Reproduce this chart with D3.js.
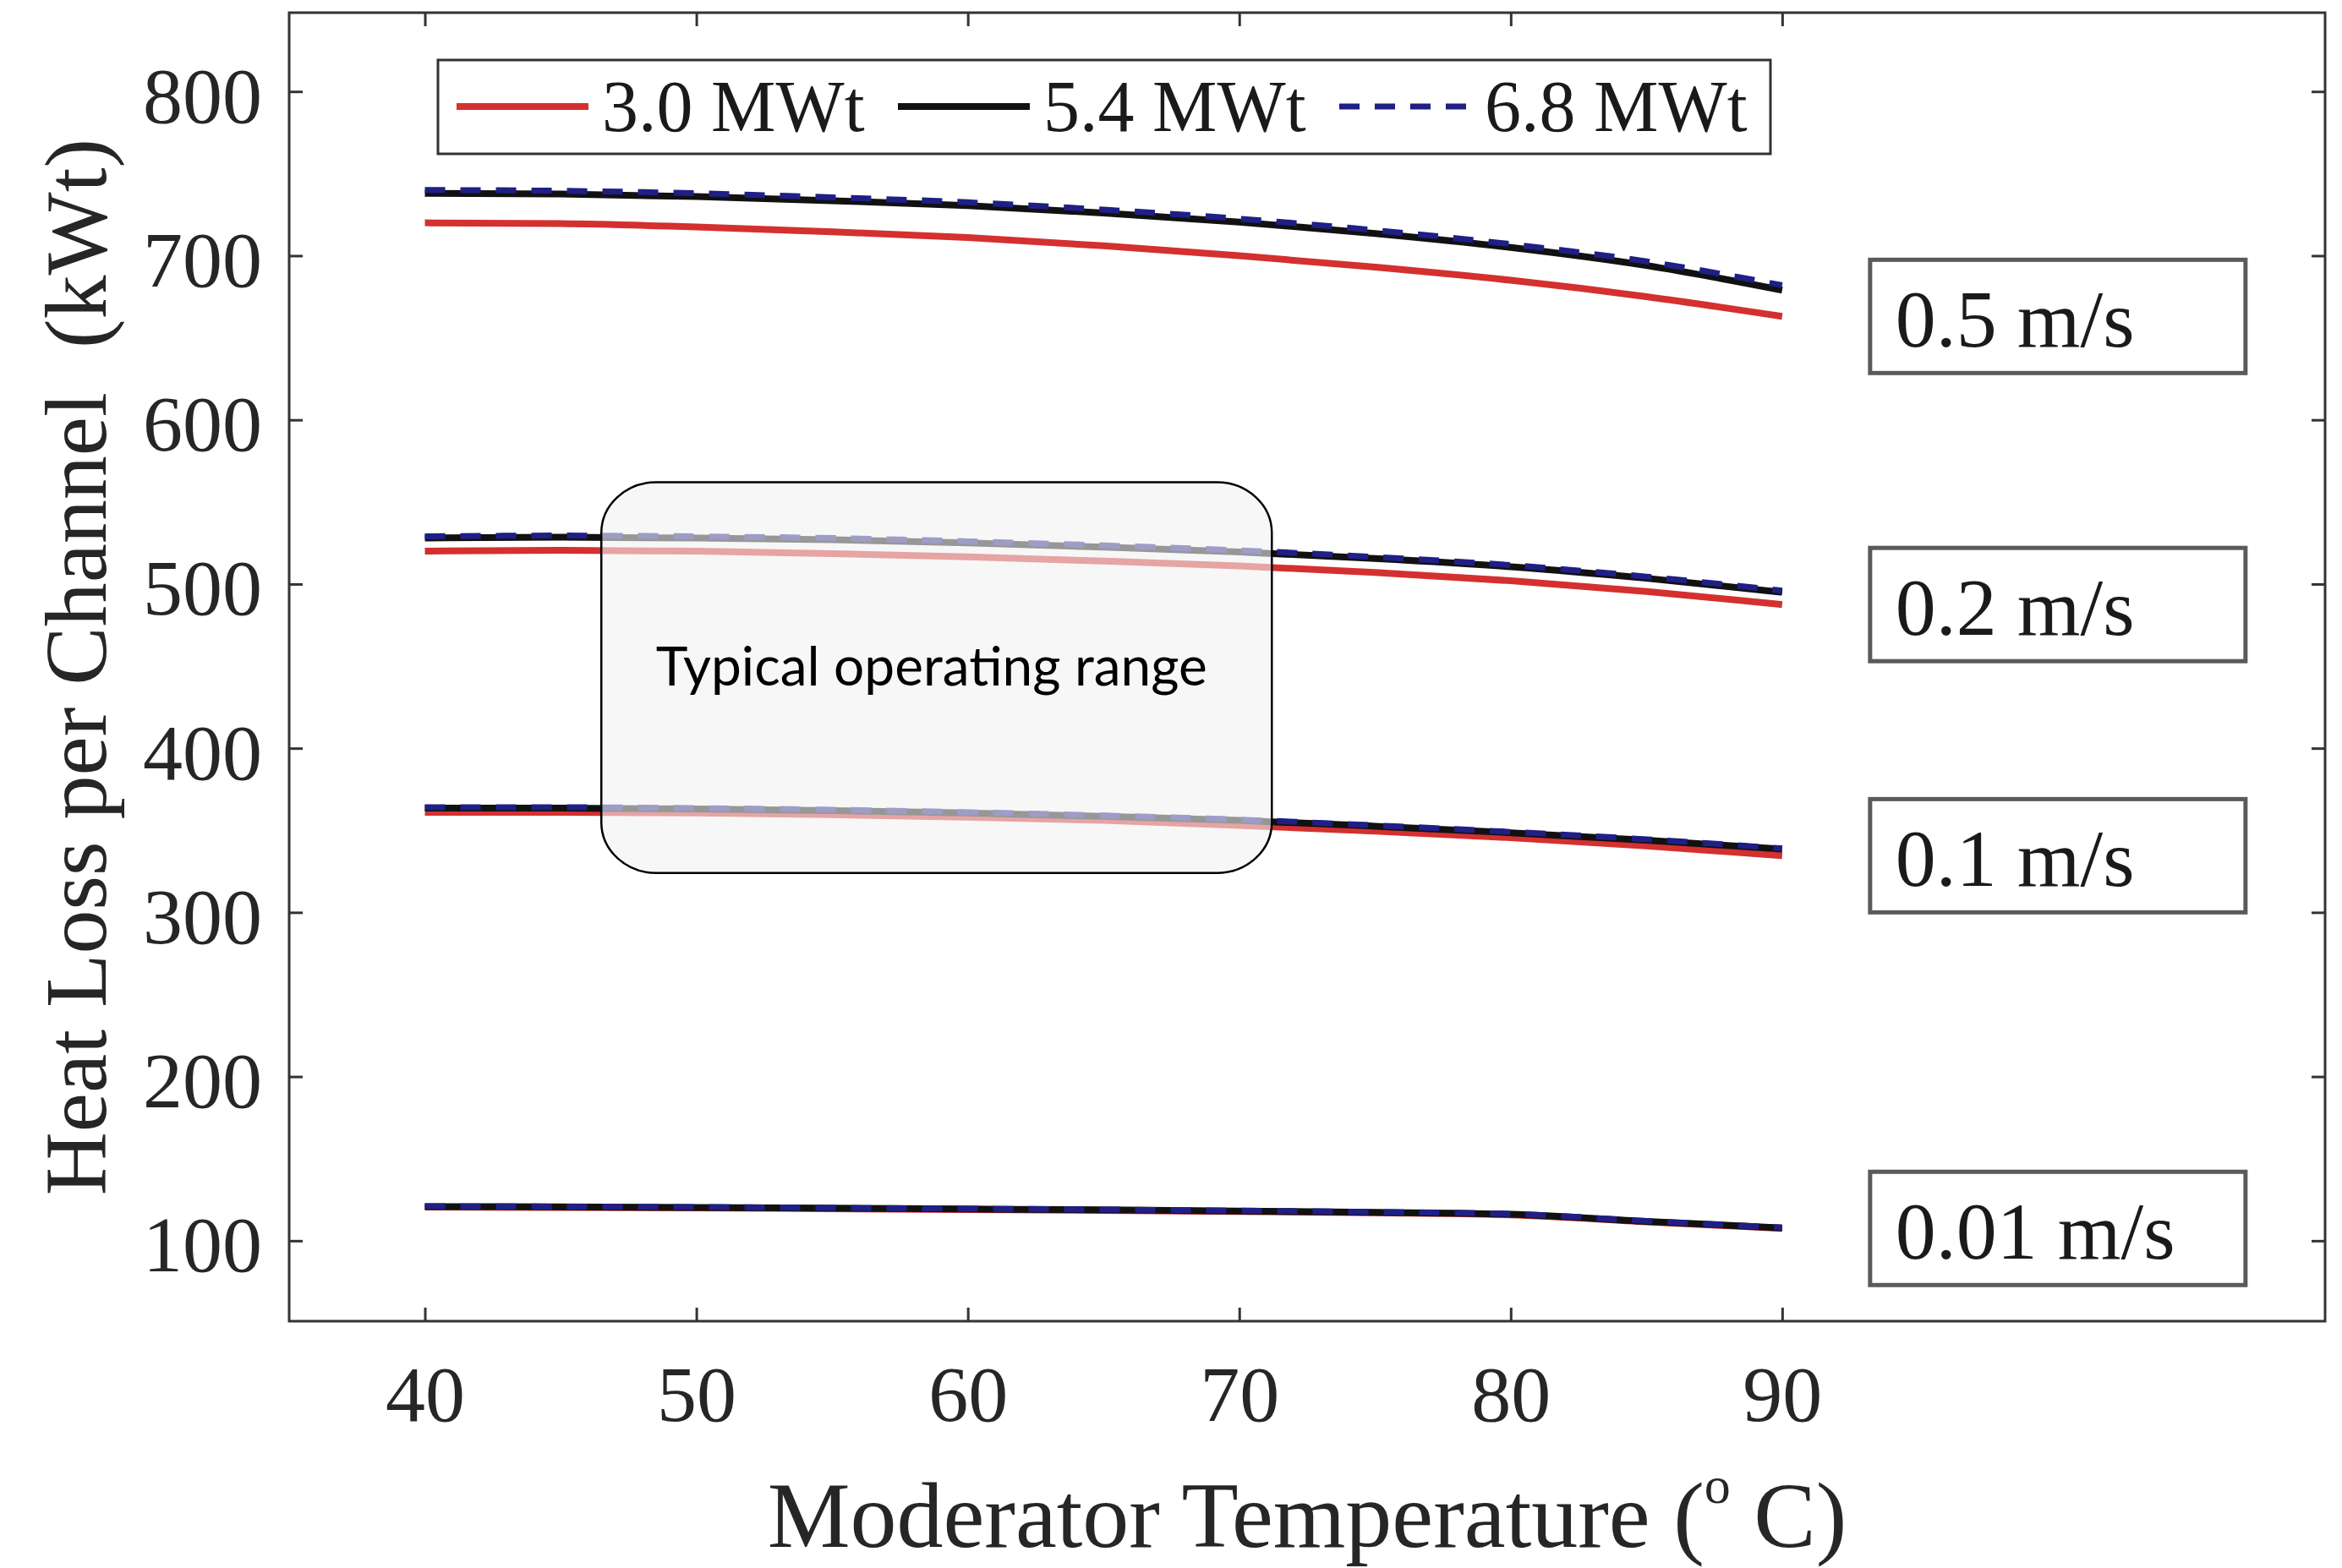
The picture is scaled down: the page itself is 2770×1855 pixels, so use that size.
<!DOCTYPE html>
<html>
<head>
<meta charset="utf-8">
<script src="https://cdn.jsdelivr.net/npm/d3@7"></script>
<style>
  html, body { margin: 0; padding: 0; background: #fff; }
  svg { display: block; }
</style>
</head>
<body>
<div id="chart"></div>
<script>
// moderator temperature (deg C)
var temps = [40, 45, 50, 55, 60, 65, 70, 75, 80, 85, 90];
var powers = ['3.0 MWt', '5.4 MWt', '6.8 MWt'];
var speeds = ['0.5 m/s', '0.2 m/s', '0.1 m/s', '0.01 m/s'];

// heat loss per channel (kWt)
var loss05_30 = [720, 719.5, 717.5, 714.5, 711, 706, 700, 693, 685, 675, 663];
var loss05_54 = [738, 737.5, 736, 733.5, 730.5, 726, 720.5, 713.5, 705, 694, 679];
var loss05_68 = [740, 739.5, 738, 735.5, 732.5, 728, 722.5, 715.5, 707, 696.5, 682];
var loss02_30 = [520, 520.5, 520, 518.5, 516.5, 514, 511, 507, 502, 495.5, 487.5];
var loss02_54 = [528, 528.5, 528, 527, 525, 522.5, 519.5, 515.5, 510.5, 503.5, 495];
var loss02_68 = [529, 529.5, 529, 528, 526, 523.5, 520.5, 516.5, 511.5, 504.5, 496];
var loss01_30 = [361, 361, 360.5, 359.5, 358, 356, 353, 349.5, 345.5, 340.5, 334.5];
var loss01_54 = [363.5, 363.5, 363, 362, 360.5, 358.5, 356, 352.5, 348.5, 344, 338.5];
var loss01_68 = [364, 364, 363.5, 362.5, 361, 359, 356.5, 353, 349, 344.5, 339];
var loss001_30 = [120.5, 120.3, 120, 119.5, 119, 118.5, 117.8, 117, 115.8, 111.5, 107.5];
var loss001_54 = [120.8, 120.6, 120.3, 119.8, 119.3, 118.8, 118.1, 117.3, 116.1, 111.8, 107.8];
var loss001_68 = [121, 120.8, 120.5, 120, 119.5, 119, 118.3, 117.5, 116.3, 112, 108];

var xTicks = [40, 50, 60, 70, 80, 90];
var yTicks = [100, 200, 300, 400, 500, 600, 700, 800];

// shaded annotation
var opLabel = 'Typical operating range';
var opTemps = [46.5, 71.2];
var opLoss = [324, 562];

var lossBySpeed = [
  [loss05_30, loss05_54, loss05_68],
  [loss02_30, loss02_54, loss02_68],
  [loss01_30, loss01_54, loss01_68],
  [loss001_30, loss001_54, loss001_68]
];

var W = 2770, H = 1855;
var plotL = 342, plotR = 2750, plotT = 15, plotB = 1563;
var serif = "'Liberation Serif', 'Times New Roman', serif";

var colors = ['#d43030', '#111111', '#1f1f86'];
var dashes = [null, null, '24,18'];
var widths = [8, 8, 7];

var svg = d3.select('#chart').append('svg')
  .attr('width', W).attr('height', H)
  .style('background', '#fff');

var x = d3.scaleLinear().domain([35, 110]).range([plotL, plotR]);
var y = d3.scaleLinear().domain([51, 848]).range([plotB, plotT]);

var line = d3.line()
  .x(function (d) { return x(d[0]); })
  .y(function (d) { return y(d[1]); })
  .curve(d3.curveMonotoneX);

// curves
var series = [];
lossBySpeed.forEach(function (group, s) {
  group.forEach(function (vals, p) {
    series.push({ speed: s, power: p, pts: temps.map(function (t, i) { return [t, vals[i]]; }) });
  });
});
series.sort(function (a, b) { return a.power - b.power; });

svg.append('g').selectAll('path').data(series).enter().append('path')
  .attr('d', function (d) { return line(d.pts); })
  .attr('fill', 'none')
  .attr('stroke', function (d) { return colors[d.power]; })
  .attr('stroke-width', function (d) { return widths[d.power]; })
  .attr('stroke-dasharray', function (d) { return dashes[d.power]; })
  .attr('stroke-linecap', 'butt');

// axes, inward ticks on all four sides
var gx = svg.append('g').attr('transform', 'translate(0,' + plotB + ')')
  .call(d3.axisBottom(x).tickValues(xTicks).tickSize(-16).tickSizeOuter(0));
gx.selectAll('text').attr('y', 118).attr('dy', 0);

var gy = svg.append('g').attr('transform', 'translate(' + plotL + ',0)')
  .call(d3.axisLeft(y).tickValues(yTicks).tickSize(-16).tickSizeOuter(0));
gy.selectAll('text').attr('x', -32).attr('dy', 36);

svg.append('g').attr('transform', 'translate(0,' + plotT + ')')
  .call(d3.axisTop(x).tickValues(xTicks).tickSize(-16).tickSizeOuter(0).tickFormat(''));
svg.append('g').attr('transform', 'translate(' + plotR + ',0)')
  .call(d3.axisRight(y).tickValues(yTicks).tickSize(-16).tickSizeOuter(0).tickFormat(''));

svg.selectAll('.domain').remove();
svg.selectAll('.tick line').attr('stroke', '#333').attr('stroke-width', 3);
svg.selectAll('.tick text')
  .attr('font-family', serif).attr('font-size', 94).attr('fill', '#262626');

svg.append('rect')
  .attr('x', plotL).attr('y', plotT)
  .attr('width', plotR - plotL).attr('height', plotB - plotT)
  .attr('fill', 'none').attr('stroke', '#333').attr('stroke-width', 3);

// axis titles
svg.append('text')
  .attr('transform', 'translate(125,' + (plotT + plotB) / 2 + ') rotate(-90)')
  .attr('text-anchor', 'middle')
  .attr('font-family', serif).attr('font-size', 104).attr('fill', '#262626')
  .style('white-space', 'pre')
  .text('Heat Loss per Channel  (kWt)');

var xt = svg.append('text')
  .attr('x', (plotL + plotR) / 2).attr('y', 1830)
  .attr('text-anchor', 'middle')
  .attr('font-family', serif).attr('font-size', 110).attr('fill', '#262626')
  .style('white-space', 'pre');
xt.append('tspan').text('Moderator Temperature (');
xt.append('tspan').attr('font-size', 62).attr('dy', -52).text('o');
xt.append('tspan').attr('dy', 52).text(' C)');

// legend
var lg = svg.append('g');
lg.append('rect')
  .attr('x', 518).attr('y', 71).attr('width', 1576).attr('height', 111)
  .attr('fill', '#fff').attr('stroke', '#333').attr('stroke-width', 3);
powers.forEach(function (name, i) {
  var x0 = 540 + i * 522;
  lg.append('line')
    .attr('x1', x0).attr('x2', x0 + 156).attr('y1', 126).attr('y2', 126)
    .attr('stroke', colors[i]).attr('stroke-width', widths[i])
    .attr('stroke-dasharray', dashes[i]);
  lg.append('text')
    .attr('x', x0 + 172).attr('y', 155)
    .attr('font-family', serif).attr('font-size', 86).attr('fill', '#1a1a1a')
    .text(name);
});

// speed labels, centred on the end of the 3.0 MWt curve
var sl = svg.append('g').selectAll('g').data(speeds).enter().append('g')
  .attr('transform', function (d, i) {
    var v = lossBySpeed[i][0][temps.length - 1];
    return 'translate(' + (x(90) + 104) + ',' + y(v) + ')';
  });
sl.append('rect')
  .attr('x', 0).attr('y', -67).attr('width', 444).attr('height', 134)
  .attr('fill', '#fff').attr('stroke', '#5a5a5a').attr('stroke-width', 5);
sl.append('text')
  .attr('x', 30).attr('y', 36)
  .attr('font-family', serif).attr('font-size', 96).attr('fill', '#1a1a1a')
  .text(function (d) { return d; });

// typical operating range box
svg.append('rect')
  .attr('x', x(opTemps[0])).attr('y', y(opLoss[1]))
  .attr('width', x(opTemps[1]) - x(opTemps[0]))
  .attr('height', y(opLoss[0]) - y(opLoss[1]))
  .attr('rx', 65).attr('ry', 60)
  .attr('fill', '#f2f2f2').attr('fill-opacity', 0.6)
  .attr('stroke', '#000').attr('stroke-width', 2.5);
svg.append('text')
  .attr('x', (x(opTemps[0]) + x(opTemps[1])) / 2 - 6).attr('y', 811)
  .attr('text-anchor', 'middle')
  .attr('font-family', "Lato, 'Open Sans', sans-serif").attr('font-size', 64)
  .attr('fill', '#000')
  .text(opLabel);
</script>
</body>
</html>
